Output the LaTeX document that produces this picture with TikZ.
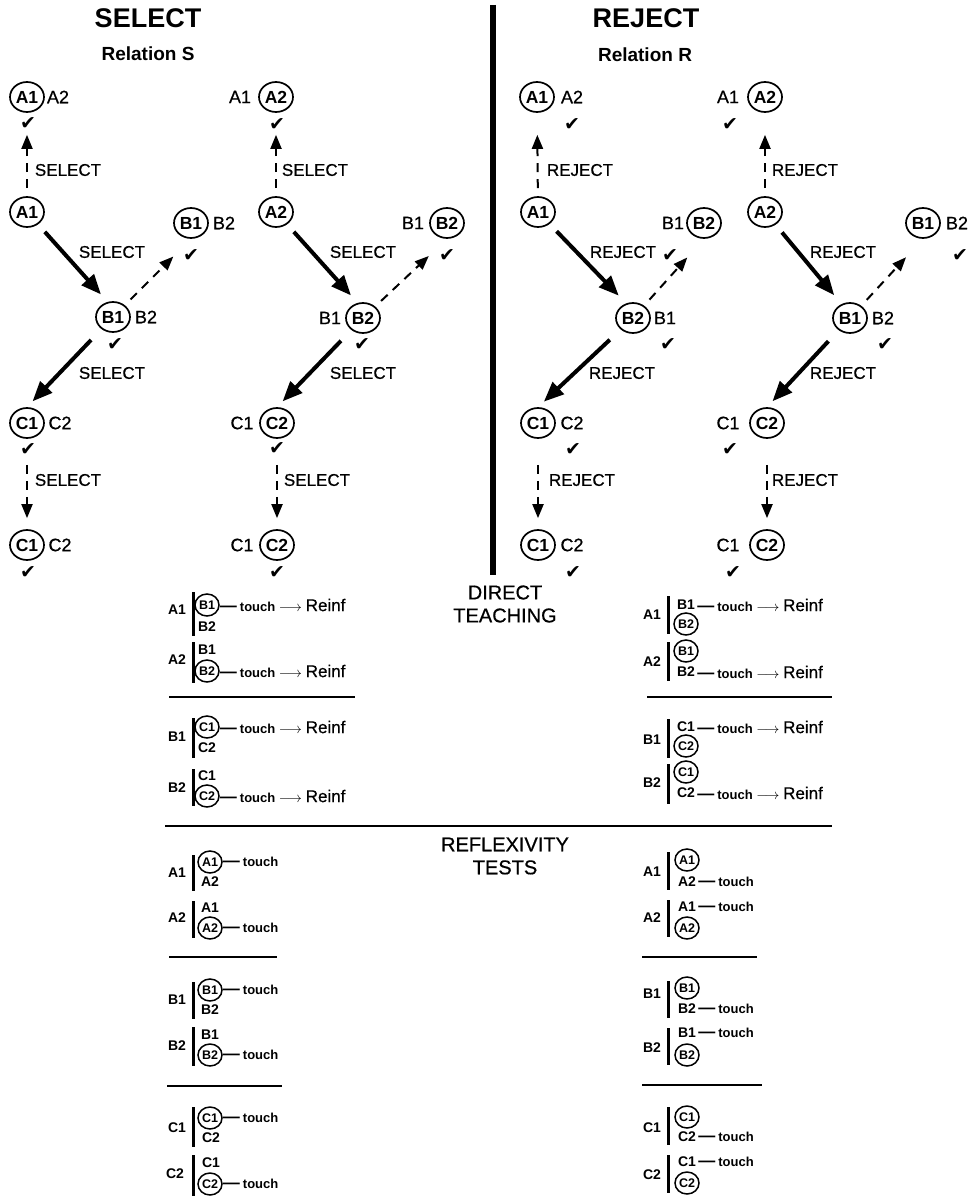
\documentclass[tikz,border=0pt]{standalone}
\usepackage{fontspec}
\setmainfont{Liberation Sans}
\newfontfamily\medsans{Liberation Sans}[FakeBold=0.6]
\newfontfamily\chkfont{DejaVu Sans}
\usetikzlibrary{arrows.meta,shapes.geometric}
\newcommand\reinf{\ {\fontsize{14}{14}\selectfont$\longrightarrow$}\ {\fontsize{17}{17}\medsans\mdseries Reinf}}
\newcommand\tdash{{\fontsize{17}{14}\selectfont —}\hspace{3pt}}
\begin{document}
\begin{tikzpicture}[x=1pt,y=-1pt,
 big/.style={ellipse,draw,line width=1.7pt,minimum width=34pt,minimum height=30pt,inner sep=0pt,font=\fontsize{17.5}{17.5}\selectfont\bfseries},
 side/.style={inner sep=0pt,font=\fontsize{18}{18}\medsans},
 chk/.style={inner sep=0pt,font=\chkfont\bfseries\fontsize{19}{19}\selectfont},
 lab/.style={inner sep=0pt,font=\fontsize{17}{17}\medsans},
 ttl/.style={inner sep=0pt,font=\fontsize{27}{27}\selectfont\bfseries},
 subttl/.style={inner sep=0pt,font=\fontsize{19}{19}\selectfont\bfseries},
 solidarr/.style={line width=4pt,-{Triangle[length=20pt,width=16pt]}},
 dasharr/.style={line width=2pt,dash pattern=on 9pt off 7pt,-{Triangle[length=14pt,width=11pt]}},
 tl/.style={inner sep=0pt,font=\fontsize{14}{14}\selectfont\bfseries},
 te/.style={inner sep=0pt,font=\fontsize{14}{14}\selectfont\bfseries},
 tc/.style={ellipse,draw,line width=1.5pt,minimum width=24pt,minimum height=22pt,inner sep=0pt,font=\fontsize{12.5}{12.5}\selectfont\bfseries},
 tt/.style={anchor=west,inner sep=0pt,font=\fontsize{13}{13}\selectfont\bfseries},
 tbar/.style={line width=3pt},
 hline/.style={line width=2.5pt},
 sect/.style={align=center,font=\fontsize{20}{23}\medsans,inner sep=0pt}
]
\useasboundingbox (0,0) rectangle (971,1196);

% titles
\node[ttl] (tsel) at (148,18) {SELECT};
\node[subttl] (rs) at (148,54) {Relation S};
\node[ttl] (trej) at (646,18) {REJECT};
\node[subttl] (rr) at (645,55) {Relation R};
\draw[line width=6pt] (493,5) -- (493,575);

% ---------- SELECT column 1
\node[big] (s1a0) at (27,97) {A1};
\node[side] (s1a0s) at (58,97) {A2};
\node[chk] (s1a0c) at (28,124) {✔};
\node[big] (s1a) at (27,212) {A1};
\node[big] (s1bu) at (191,223) {B1};
\node[side] (s1bus) at (224,223) {B2};
\node[chk] (s1buc) at (191,256) {✔};
\node[big] (s1b) at (113,317) {B1};
\node[side] (s1bs) at (146,317) {B2};
\node[chk] (s1bc) at (115,345) {✔};
\node[big] (s1c) at (27,423) {C1};
\node[side] (s1cs) at (60,423) {C2};
\node[chk] (s1cc) at (28,450) {✔};
\node[big] (s1c0) at (27,545) {C1};
\node[side] (s1c0s) at (60,545) {C2};
\node[chk] (s1c0c) at (28,573) {✔};
\draw[dasharr,shorten <=8pt,shorten >=22pt] (s1a) -- (s1a0);
\draw[solidarr,shorten <=10pt,shorten >=9pt] (s1a) -- ([xshift=-6pt]s1b.north);
\draw[dasharr,shorten <=8pt,shorten >=25pt] (s1b) -- (s1bu.south);
\draw[solidarr,shorten <=15pt,shorten >=8pt] (s1b) -- (s1c.north);
\draw[dasharr,shorten <=26pt,shorten >=11pt] (s1c) -- (s1c0);
\node[lab] (s1l1) at (68,170) {SELECT};
\node[lab] (s1l2) at (112,252) {SELECT};
\node[lab] (s1l3) at (112,373) {SELECT};
\node[lab] (s1l4) at (68,480) {SELECT};

% ---------- SELECT column 2
\node[side] (s2a0s) at (240,97) {A1};
\node[big] (s2a0) at (276,97) {A2};
\node[chk] (s2a0c) at (277,125) {✔};
\node[big] (s2a) at (276,212) {A2};
\node[side] (s2bus) at (413,223) {B1};
\node[big] (s2bu) at (447,223) {B2};
\node[chk] (s2buc) at (447,256) {✔};
\node[side] (s2bs) at (330,318) {B1};
\node[big] (s2b) at (363,318) {B2};
\node[chk] (s2bc) at (362,345) {✔};
\node[side] (s2cs) at (242,423) {C1};
\node[big] (s2c) at (277,423) {C2};
\node[chk] (s2cc) at (277,449) {✔};
\node[side] (s2c0s) at (242,545) {C1};
\node[big] (s2c0) at (277,545) {C2};
\node[chk] (s2c0c) at (277,573) {✔};
\draw[dasharr,shorten <=8pt,shorten >=22pt] (s2a) -- (s2a0);
\draw[solidarr,shorten <=10pt,shorten >=9pt] (s2a) -- ([xshift=-6pt]s2b.north);
\draw[dasharr,shorten <=8pt,shorten >=25pt] (s2b) -- (s2bu.south);
\draw[solidarr,shorten <=15pt,shorten >=8pt] (s2b) -- (s2c.north);
\draw[dasharr,shorten <=26pt,shorten >=11pt] (s2c) -- (s2c0);
\node[lab] (s2l1) at (315,170) {SELECT};
\node[lab] (s2l2) at (363,252) {SELECT};
\node[lab] (s2l3) at (363,373) {SELECT};
\node[lab] (s2l4) at (317,480) {SELECT};

% ---------- REJECT column 1
\node[big] (r1a0) at (537,97) {A1};
\node[side] (r1a0s) at (572,97) {A2};
\node[chk] (r1a0c) at (572,125) {✔};
\node[big] (r1a) at (538,212) {A1};
\node[side] (r1bus) at (673,223) {B1};
\node[big] (r1bu) at (704,223) {B2};
\node[chk] (r1buc) at (670,256) {✔};
\node[big] (r1b) at (633,318) {B2};
\node[side] (r1bs) at (665,318) {B1};
\node[chk] (r1bc) at (668,345) {✔};
\node[big] (r1c) at (538,423) {C1};
\node[side] (r1cs) at (572,423) {C2};
\node[chk] (r1cc) at (573,450) {✔};
\node[big] (r1c0) at (538,545) {C1};
\node[side] (r1c0s) at (572,545) {C2};
\node[chk] (r1c0c) at (573,573) {✔};
\draw[dasharr,shorten <=8pt,shorten >=22pt] (r1a) -- (r1a0);
\draw[solidarr,shorten <=10pt,shorten >=9pt] (r1a) -- ([xshift=-8pt]r1b.north);
\draw[dasharr,shorten <=8pt,shorten >=25pt] (r1b) -- (r1bu.south);
\draw[solidarr,shorten <=15pt,shorten >=8pt] (r1b) -- (r1c.north);
\draw[dasharr,shorten <=26pt,shorten >=11pt] (r1c) -- (r1c0);
\node[lab] (r1l1) at (580,170) {REJECT};
\node[lab] (r1l2) at (623,252) {REJECT};
\node[lab] (r1l3) at (622,373) {REJECT};
\node[lab] (r1l4) at (582,480) {REJECT};

% ---------- REJECT column 2
\node[side] (r2a0s) at (728,97) {A1};
\node[big] (r2a0) at (765,97) {A2};
\node[chk] (r2a0c) at (730,125) {✔};
\node[big] (r2a) at (765,212) {A2};
\node[big] (r2bu) at (923,223) {B1};
\node[side] (r2bus) at (957,223) {B2};
\node[chk] (r2buc) at (960,256) {✔};
\node[big] (r2b) at (850,318) {B1};
\node[side] (r2bs) at (883,318) {B2};
\node[chk] (r2bc) at (885,345) {✔};
\node[side] (r2cs) at (728,423) {C1};
\node[big] (r2c) at (767,423) {C2};
\node[chk] (r2cc) at (730,450) {✔};
\node[side] (r2c0s) at (728,545) {C1};
\node[big] (r2c0) at (767,545) {C2};
\node[chk] (r2c0c) at (733,573) {✔};
\draw[dasharr,shorten <=8pt,shorten >=22pt] (r2a) -- (r2a0);
\draw[solidarr,shorten <=10pt,shorten >=9pt] (r2a) -- ([xshift=-10pt]r2b.north);
\draw[dasharr,shorten <=8pt,shorten >=25pt] (r2b) -- (r2bu.south);
\draw[solidarr,shorten <=15pt,shorten >=8pt] (r2b) -- (r2c.north);
\draw[dasharr,shorten <=26pt,shorten >=11pt] (r2c) -- (r2c0);
\node[lab] (r2l1) at (805,170) {REJECT};
\node[lab] (r2l2) at (843,252) {REJECT};
\node[lab] (r2l3) at (843,373) {REJECT};
\node[lab] (r2l4) at (805,480) {REJECT};

% ---------- section titles
\node[sect] (dt) at (505,604) {DIRECT\\TEACHING};
\node[sect] (rt) at (505,856) {REFLEXIVITY\\TESTS};

% ---------- direct teaching, left
\node[tl] (dla1) at (177,610) {A1};
\draw[tbar] (193,592) -- (193,636);
\node[tc] (dla1t) at (207,605) {B1};
\node[tt] (dla1x) at (dla1t.east) {\tdash touch\reinf};
\node[te] (dla1b) at (207,627) {B2};
\node[tl] (dla2) at (177,660) {A2};
\draw[tbar] (193,642) -- (193,683);
\node[te] (dla2t) at (207,650) {B1};
\node[tc] (dla2b) at (207,671) {B2};
\node[tt] (dla2x) at (dla2b.east) {\tdash touch\reinf};
\draw[hline] (169,697) -- (355,697);
\node[tl] (dlb1) at (177,737) {B1};
\draw[tbar] (193,718) -- (193,758);
\node[tc] (dlb1t) at (207,727) {C1};
\node[tt] (dlb1x) at (dlb1t.east) {\tdash touch\reinf};
\node[te] (dlb1b) at (207,748) {C2};
\node[tl] (dlb2) at (177,788) {B2};
\draw[tbar] (193,769) -- (193,806);
\node[te] (dlb2t) at (207,776) {C1};
\node[tc] (dlb2b) at (207,796) {C2};
\node[tt] (dlb2x) at (dlb2b.east) {\tdash touch\reinf};
\draw[hline] (165,826) -- (832,826);

% ---------- direct teaching, right
\node[tl] (dra1) at (652,615) {A1};
\draw[tbar] (668,596) -- (668,634);
\node[te] (dra1t) at (686,605) {B1};
\node[tt,xshift=2pt] (dra1x) at (dra1t.east) {\tdash touch\reinf};
\node[tc] (dra1b) at (686,624) {B2};
\node[tl] (dra2) at (652,662) {A2};
\draw[tbar] (668,642) -- (668,681);
\node[tc] (dra2t) at (686,651) {B1};
\node[te] (dra2b) at (686,672) {B2};
\node[tt,xshift=2pt] (dra2x) at (dra2b.east) {\tdash touch\reinf};
\draw[hline] (647,697) -- (832,697);
\node[tl] (drb1) at (652,740) {B1};
\draw[tbar] (668,719) -- (668,758);
\node[te] (drb1t) at (686,727) {C1};
\node[tt,xshift=2pt] (drb1x) at (drb1t.east) {\tdash touch\reinf};
\node[tc] (drb1b) at (686,746) {C2};
\node[tl] (drb2) at (652,783) {B2};
\draw[tbar] (668,764) -- (668,804);
\node[tc] (drb2t) at (686,772) {C1};
\node[te] (drb2b) at (686,793) {C2};
\node[tt,xshift=2pt] (drb2x) at (drb2b.east) {\tdash touch\reinf};

% ---------- reflexivity, left
\node[tl] (fla1) at (177,873) {A1};
\draw[tbar] (193,855) -- (193,891);
\node[tc] (fla1t) at (210,862) {A1};
\node[tt] (fla1x) at (fla1t.east) {\tdash touch};
\node[te] (fla1b) at (210,882) {A2};
\node[tl] (fla2) at (177,918) {A2};
\draw[tbar] (193,901) -- (193,938);
\node[te] (fla2t) at (210,908) {A1};
\node[tc] (fla2b) at (210,928) {A2};
\node[tt] (fla2x) at (fla2b.east) {\tdash touch};
\draw[hline] (169,957) -- (277,957);
\node[tl] (flb1) at (177,1000) {B1};
\draw[tbar] (193,982) -- (193,1019);
\node[tc] (flb1t) at (210,990) {B1};
\node[tt] (flb1x) at (flb1t.east) {\tdash touch};
\node[te] (flb1b) at (210,1010) {B2};
\node[tl] (flb2) at (177,1046) {B2};
\draw[tbar] (193,1027) -- (193,1066);
\node[te] (flb2t) at (210,1035) {B1};
\node[tc] (flb2b) at (210,1055) {B2};
\node[tt] (flb2x) at (flb2b.east) {\tdash touch};
\draw[hline] (167,1086) -- (282,1086);
\node[tl] (flc1) at (177,1128) {C1};
\draw[tbar] (193,1107) -- (193,1147);
\node[tc] (flc1t) at (210,1118) {C1};
\node[tt] (flc1x) at (flc1t.east) {\tdash touch};
\node[te] (flc1b) at (211,1138) {C2};
\node[tl] (flc2) at (175,1174) {C2};
\draw[tbar] (193,1155) -- (193,1196);
\node[te] (flc2t) at (211,1163) {C1};
\node[tc] (flc2b) at (210,1184) {C2};
\node[tt] (flc2x) at (flc2b.east) {\tdash touch};

% ---------- reflexivity, right
\node[tl] (fra1) at (652,872) {A1};
\draw[tbar] (668,852) -- (668,890);
\node[tc] (fra1t) at (687,860) {A1};
\node[te] (fra1b) at (687,882) {A2};
\node[tt,xshift=2pt] (fra1x) at (fra1b.east) {\tdash touch};
\node[tl] (fra2) at (652,918) {A2};
\draw[tbar] (668,900) -- (668,937);
\node[te] (fra2t) at (687,907) {A1};
\node[tt,xshift=2pt] (fra2x) at (fra2t.east) {\tdash touch};
\node[tc] (fra2b) at (687,928) {A2};
\draw[hline] (642,957) -- (757,957);
\node[tl] (frb1) at (652,994) {B1};
\draw[tbar] (668,981) -- (668,1018);
\node[tc] (frb1t) at (687,988) {B1};
\node[te] (frb1b) at (687,1009) {B2};
\node[tt,xshift=2pt] (frb1x) at (frb1b.east) {\tdash touch};
\node[tl] (frb2) at (652,1048) {B2};
\draw[tbar] (668,1028) -- (668,1065);
\node[te] (frb2t) at (687,1033) {B1};
\node[tt,xshift=2pt] (frb2x) at (frb2t.east) {\tdash touch};
\node[tc] (frb2b) at (687,1055) {B2};
\draw[hline] (642,1085) -- (762,1085);
\node[tl] (frc1) at (652,1128) {C1};
\draw[tbar] (668,1107) -- (668,1145);
\node[tc] (frc1t) at (687,1117) {C1};
\node[te] (frc1b) at (687,1137) {C2};
\node[tt,xshift=2pt] (frc1x) at (frc1b.east) {\tdash touch};
\node[tl] (frc2) at (652,1175) {C2};
\draw[tbar] (668,1155) -- (668,1193);
\node[te] (frc2t) at (687,1162) {C1};
\node[tt,xshift=2pt] (frc2x) at (frc2t.east) {\tdash touch};
\node[tc] (frc2b) at (687,1183) {C2};
\end{tikzpicture}
\end{document}
